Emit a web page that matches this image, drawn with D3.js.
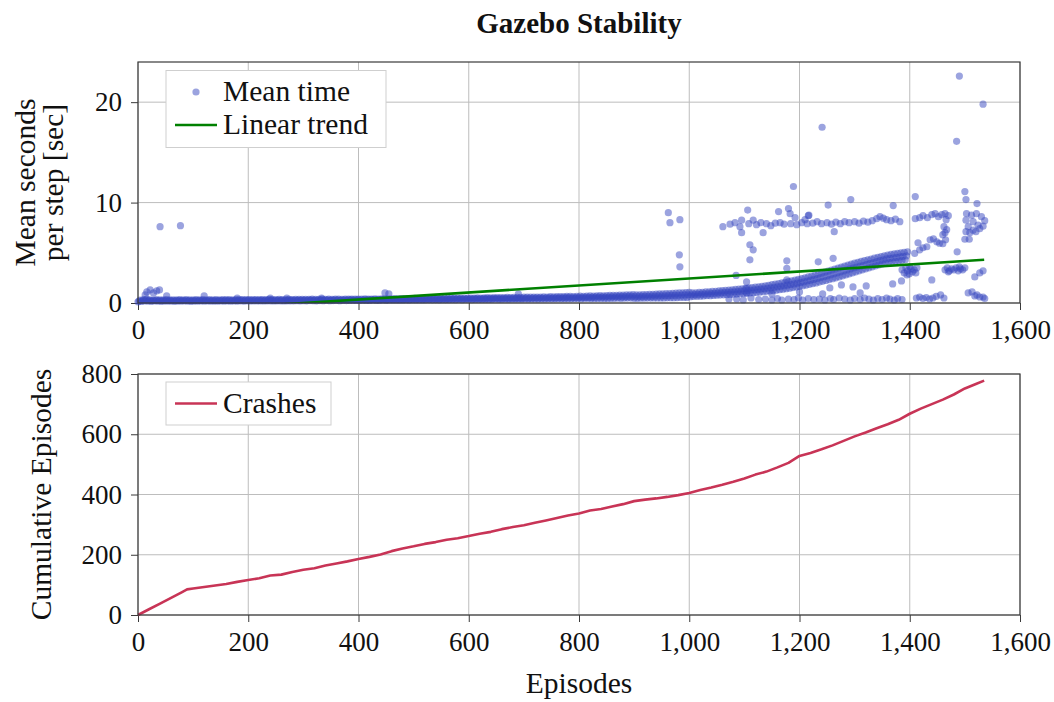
<!DOCTYPE html>
<html>
<head>
<meta charset="utf-8">
<script src="https://cdn.jsdelivr.net/npm/d3@7"></script>
<style>
  body { margin: 0; background: #fff; }
  svg { font-family: "Liberation Serif", "DejaVu Serif", serif; }
</style>
</head>
<body>
<div id="chart"></div>
<script>
// ---- data ----
const xTicks = [0, 200, 400, 600, 800, 1000, 1200, 1400, 1600];
const topTicks = [0, 10, 20];
const bottomTicks = [0, 200, 400, 600, 800];

// dense band of mean step times, three rows of readings every 6 episodes
// (lower row from episode 0, middle row from 2, upper row from 4), up to ~1000
const bandStep = 6;
const bandLowStart = 0, bandMidStart = 2, bandHighStart = 4;
const bandLow = [
  0.12,0.15,0.2,0.18,0.17,0.2,0.18,0.17,0.19,0.18,
  0.18,0.17,0.19,0.18,0.2,0.18,0.17,0.19,0.18,0.2,
  0.18,0.2,0.18,0.19,0.18,0.2,0.19,0.2,0.18,0.2,
  0.19,0.21,0.19,0.21,0.2,0.21,0.2,0.21,0.2,0.22,
  0.21,0.2,0.22,0.21,0.2,0.22,0.21,0.22,0.23,0.22,
  0.23,0.22,0.24,0.23,0.22,0.24,0.23,0.25,0.23,0.24,
  0.25,0.23,0.25,0.24,0.26,0.25,0.26,0.25,0.27,0.26,
  0.26,0.28,0.26,0.27,0.28,0.27,0.28,0.29,0.28,0.29,
  0.29,0.3,0.29,0.31,0.3,0.31,0.3,0.31,0.32,0.31,
  0.32,0.31,0.33,0.32,0.33,0.34,0.33,0.35,0.33,0.35,
  0.35,0.34,0.36,0.35,0.36,0.37,0.36,0.37,0.38,0.37,
  0.37,0.38,0.37,0.38,0.39,0.38,0.39,0.4,0.39,0.4,
  0.4,0.39,0.41,0.4,0.42,0.41,0.42,0.43,0.42,0.43,
  0.43,0.42,0.44,0.44,0.43,0.45,0.45,0.44,0.46,0.46,
  0.45,0.46,0.46,0.47,0.47,0.48,0.47,0.48,0.49,0.49,
  0.47,0.47,0.48,0.48,0.49,0.49,0.5,0.5,0.51,0.51,
  0.52,0.53,0.53,0.54,0.55,0.55,0.56
];
const bandMid = [
  0.2,0.25,0.3,0.25,0.24,0.26,0.25,0.24,0.26,0.25,
  0.25,0.24,0.26,0.25,0.27,0.25,0.24,0.26,0.25,0.27,
  0.25,0.27,0.25,0.26,0.25,0.27,0.26,0.27,0.25,0.27,
  0.26,0.28,0.26,0.28,0.27,0.28,0.27,0.28,0.27,0.29,
  0.28,0.27,0.29,0.28,0.27,0.29,0.28,0.29,0.3,0.29,
  0.3,0.29,0.31,0.3,0.29,0.31,0.3,0.32,0.3,0.31,
  0.32,0.3,0.32,0.31,0.33,0.32,0.33,0.32,0.34,0.33,
  0.33,0.35,0.33,0.34,0.35,0.34,0.35,0.36,0.35,0.36,
  0.36,0.37,0.36,0.38,0.37,0.38,0.37,0.38,0.39,0.38,
  0.39,0.38,0.4,0.39,0.4,0.41,0.4,0.42,0.4,0.42,
  0.42,0.41,0.43,0.42,0.43,0.44,0.43,0.44,0.45,0.44,
  0.45,0.46,0.45,0.46,0.47,0.46,0.47,0.48,0.47,0.48,
  0.49,0.48,0.5,0.49,0.51,0.5,0.51,0.52,0.51,0.53,
  0.53,0.52,0.54,0.55,0.54,0.56,0.57,0.56,0.58,0.59,
  0.58,0.6,0.6,0.61,0.62,0.63,0.63,0.64,0.65,0.66,
  0.63,0.64,0.65,0.66,0.67,0.68,0.69,0.7,0.71,0.72,
  0.73,0.75,0.76,0.77,0.79,0.8,0.82
];
const bandHigh = [
  0.28,0.35,0.4,0.32,0.31,0.33,0.32,0.31,0.33,0.32,
  0.32,0.31,0.33,0.32,0.34,0.32,0.31,0.33,0.32,0.34,
  0.32,0.34,0.32,0.33,0.32,0.34,0.33,0.34,0.32,0.34,
  0.33,0.35,0.33,0.35,0.34,0.35,0.34,0.35,0.34,0.36,
  0.35,0.34,0.36,0.35,0.34,0.36,0.35,0.36,0.37,0.36,
  0.37,0.36,0.38,0.37,0.36,0.38,0.37,0.39,0.37,0.38,
  0.39,0.37,0.39,0.38,0.4,0.39,0.4,0.39,0.41,0.4,
  0.4,0.42,0.4,0.41,0.42,0.41,0.42,0.43,0.42,0.43,
  0.44,0.45,0.44,0.46,0.45,0.46,0.45,0.46,0.47,0.46,
  0.47,0.46,0.48,0.47,0.48,0.49,0.48,0.5,0.48,0.5,
  0.5,0.49,0.51,0.5,0.51,0.53,0.52,0.53,0.54,0.53,
  0.55,0.56,0.55,0.56,0.57,0.56,0.58,0.59,0.58,0.59,
  0.6,0.59,0.61,0.6,0.63,0.62,0.63,0.64,0.63,0.65,
  0.65,0.64,0.67,0.68,0.67,0.69,0.7,0.69,0.72,0.73,
  0.72,0.74,0.75,0.76,0.77,0.79,0.79,0.8,0.82,0.83,
  0.8,0.81,0.83,0.84,0.85,0.87,0.88,0.9,0.91,0.93,
  0.94,0.96,0.98,1.0,1.02,1.04,1.06
];

// rising part of the band, three rows every 6 episodes from 1002 / 1004 / 1006
const riseLowStart = 1002, riseMidStart = 1004, riseHighStart = 1006;
const riseLow = [
  0.63,0.65,0.66,0.68,0.7,0.72,0.73,0.75,0.77,0.79,
  0.81,0.83,0.85,0.87,0.89,0.92,0.94,0.97,1.0,1.02,
  1.05,1.09,1.12,1.16,1.2,1.24,1.28,1.33,1.38,1.43,
  1.48,1.54,1.6,1.66,1.72,1.79,1.86,1.93,2.0,2.08,
  2.16,2.24,2.33,2.42,2.51,2.6,2.7,2.8,2.9,3.0,
  3.1,3.2,3.3,3.4,3.5,3.6,3.7,3.8,3.9,4.0,
  4.05,4.1,4.15,4.2,4.25,4.3
];
const riseMid = [
  0.82,0.84,0.86,0.88,0.9,0.92,0.94,0.96,0.99,1.01,
  1.04,1.06,1.09,1.11,1.14,1.17,1.2,1.24,1.27,1.3,
  1.34,1.38,1.42,1.47,1.51,1.56,1.61,1.67,1.72,1.78,
  1.84,1.9,1.97,2.04,2.11,2.19,2.27,2.35,2.44,2.53,
  2.62,2.71,2.8,2.9,3.0,3.09,3.19,3.29,3.39,3.49,
  3.58,3.67,3.76,3.85,3.94,4.03,4.12,4.21,4.3,4.39,
  4.45,4.5,4.55,4.6,4.65,4.7
];
const riseHigh = [
  1.0,1.02,1.05,1.07,1.1,1.12,1.15,1.17,1.2,1.23,
  1.26,1.29,1.32,1.35,1.38,1.42,1.46,1.5,1.54,1.58,
  1.62,1.67,1.72,1.77,1.82,1.88,1.94,2.0,2.06,2.13,
  2.2,2.27,2.35,2.43,2.51,2.6,2.69,2.78,2.88,2.98,
  3.08,3.18,3.28,3.38,3.48,3.58,3.68,3.78,3.88,3.98,
  4.06,4.14,4.22,4.3,4.38,4.46,4.54,4.62,4.7,4.78,
  4.84,4.9,4.95,5.0,5.05,5.1
];

// strand around 8 s
const upperStrand = [
  [1061,7.6],[1074,7.85],[1083,8.0],[1092,7.6],[1095,7.0],[1108,7.9],[1122,7.8],[1130,8.0],
  [1134,7.0],[1140,7.9],[1148,7.7],[1156,7.95],[1165,8.0],[1172,7.85],[1184,7.9],[1195,7.8],
  [1204,8.0],[1214,7.9],[1224,7.95],[1232,8.1],[1240,7.9],[1250,8.0],[1258,7.85],[1263,7.1],
  [1266,8.05],[1274,7.9],[1282,8.1],[1290,8.0],[1300,8.1],[1308,7.95],[1316,8.15],[1324,8.05],
  [1332,8.2],[1340,8.4],[1346,8.6],[1352,8.45],[1358,8.3],[1366,8.2],[1374,8.35],[1382,8.1],
  [1410,8.4],[1418,8.5],[1424,8.7],[1432,8.5],[1440,8.8],[1446,8.9],[1452,8.6],[1458,8.8],
  [1464,8.9],[1470,8.7]
];

// strand near the floor after episode 1070
const lowerStrand = [
  [1072,0.4],[1086,0.4],[1098,0.3],[1104,1.0],[1112,0.5],[1126,0.35],[1138,0.4],[1150,0.3],
  [1150,0.9],[1160,0.45],[1168,0.3],[1180,0.4],[1190,0.35],[1198,0.5],[1200,1.1],[1206,0.3],
  [1216,0.45],[1226,0.35],[1236,0.4],[1242,0.9],[1246,0.3],[1256,0.45],[1262,0.35],[1272,0.5],
  [1282,0.4],[1292,0.3],[1300,0.45],[1310,0.35],[1310,1.0],[1318,0.5],[1326,0.4],[1334,0.3],
  [1342,0.45],[1350,0.35],[1358,0.5],[1364,0.4],[1372,0.3],[1378,0.45],[1386,0.35],[1412,0.5],
  [1418,0.6],[1424,0.45],[1430,0.55],[1436,0.4],[1442,0.5],[1448,0.65],[1456,0.8],[1462,0.5],
  [1506,1.0],[1513,1.1],[1518,0.7],[1522,0.8],[1527,0.6],[1533,0.6],[1536,0.45]
];

// late clusters
const lateClusters = [
  [1386,3.3],[1390,3.0],[1393,3.5],[1395,2.8],[1396,3.2],[1399,2.9],[1400,3.6],[1402,3.4],
  [1405,3.1],[1408,3.3],[1411,3.0],[1413,3.5],
  [1464,3.3],[1468,3.5],[1470,3.1],[1472,3.2],[1476,3.4],[1480,3.3],[1484,3.5],[1488,3.2],
  [1490,3.6],[1492,3.4],[1496,3.3],[1500,3.5],
  [1409,4.95],[1415,6.0],[1418,5.3],[1424,5.5],[1431,5.6],[1437,6.3],[1443,6.4],[1449,6.1],
  [1454,5.95],[1460,6.8],[1464,7.0],[1467,7.3],[1462,7.6],[1466,8.3],[1460,5.9],[1465,6.3],
  [1503,8.9],[1512,8.75],[1521,8.9],[1530,8.6],[1536,8.2],[1502,8.25],[1515,8.1],[1524,7.75],
  [1506,7.6],[1515,7.25],[1527,7.4],[1533,7.65],[1502,7.1],[1509,7.0],[1520,7.1],[1500,6.35],
  [1508,6.35]
];

// isolated points
const outliers = [
  [13,0.8],[16,1.1],[22,1.3],[28,1.0],[34,1.2],[39,1.3],[52,0.7],[40,7.6],[77,7.7],
  [120,0.7],[180,0.5],[240,0.5],[270,0.5],[333,0.5],[448,1.0],[455,0.9],[690,0.9],
  [962,9.0],[965,8.0],[983,8.3],[982,4.8],[983,3.6],
  [1085,2.75],[1104,2.1],[1104,1.45],[1106,9.25],[1110,5.8],[1116,5.3],[1110,4.3],
  [1095,8.25],[1116,8.25],[1162,9.1],[1180,9.4],[1183,8.9],[1192,8.5],[1189,11.6],
  [1216,8.7],[1210,8.3],[1217,8.75],[1177,4.2],[1177,3.45],[1177,2.3],[1234,4.1],
  [1261,4.45],[1252,9.75],[1241,17.5],[1293,10.3],[1370,9.7],[1410,10.6],
  [1255,1.5],[1276,1.8],[1297,1.6],[1321,1.7],[1369,1.9],[1385,2.2],[1440,2.3],
  [1486,5.1],[1490,22.6],[1533,19.8],[1485,16.1],[1500,11.1],[1502,10.3],[1522,9.9],
  [1518,2.6],[1527,3.0],[1533,3.2]
];

// linear trend end points
const trendEpisodes = [0, 1535];
const trendValues = [-1.05, 4.3];

// cumulative crashes
const crashEpisodes = [0,20,40,60,80,89,100,120,140,160,180,200,220,240,260,280,300,320,340,360,
  380,400,420,440,460,480,500,520,540,560,580,600,620,640,660,680,700,720,740,760,780,800,820,
  840,860,880,900,920,940,960,980,1000,1020,1040,1060,1080,1100,1120,1140,1160,1180,1200,1220,
  1240,1260,1280,1300,1320,1340,1360,1380,1400,1420,1440,1460,1480,1500,1520,1535];
const crashCounts = [0,19,38,57,76,85,88,93,98,103,110,116,122,131,134,143,150,155,164,171,
  178,186,193,201,212,221,228,236,242,250,255,262,270,276,285,292,298,306,314,322,330,337,347,
  352,360,368,378,383,387,392,398,405,415,423,432,442,453,466,476,490,505,528,538,550,563,578,
  593,606,620,633,648,668,685,700,715,732,752,767,778];

// ---- layout ----
const width = 1054, height = 702;
const plotLeft = 138, plotRight = 1020;
const topPanel = {top: 62, bottom: 303};
const botPanel = {top: 374, bottom: 615};

const blue = 'rgb(55,72,192)';
const green = 'rgb(0,128,0)';
const crimson = 'rgb(200,52,86)';
const gridColor = '#bdbdbd';
const frameColor = '#3a3a3a';
const labelSize = '29.5px';

const svg = d3.select('#chart').append('svg')
  .attr('width', width)
  .attr('height', height);

const x = d3.scaleLinear().domain([0, 1600]).range([plotLeft, plotRight]);
const yTop = d3.scaleLinear().domain([0, 24]).range([topPanel.bottom, topPanel.top]);
const yBot = d3.scaleLinear().domain([0, 800]).range([botPanel.bottom, botPanel.top]);

function drawFrame(panel, y, yTickVals) {
  const g = svg.append('g');
  // grid
  g.selectAll('.vgrid')
    .data(xTicks)
    .join('line')
      .attr('x1', d => x(d)).attr('x2', d => x(d))
      .attr('y1', panel.top).attr('y2', panel.bottom)
      .attr('stroke', gridColor).attr('stroke-width', 1);
  g.selectAll('.hgrid')
    .data(yTickVals)
    .join('line')
      .attr('x1', plotLeft).attr('x2', plotRight)
      .attr('y1', d => y(d)).attr('y2', d => y(d))
      .attr('stroke', gridColor).attr('stroke-width', 1);

  const xAxis = d3.axisBottom(x).tickValues(xTicks).tickFormat(d3.format(',')).tickSize(7).tickPadding(10);
  const yAxis = d3.axisLeft(y).tickValues(yTickVals).tickSize(7).tickPadding(9);

  svg.append('g')
    .attr('transform', `translate(0, ${panel.bottom})`)
    .call(xAxis)
    .call(g => g.select('.domain').remove())
    .call(g => g.selectAll('line').attr('stroke', frameColor))
    .selectAll('text')
      .attr('font-size', '27px')
      .attr('fill', '#111')
      .attr('font-family', '"Liberation Serif", serif');

  svg.append('g')
    .attr('transform', `translate(${plotLeft}, 0)`)
    .call(yAxis)
    .call(g => g.select('.domain').remove())
    .call(g => g.selectAll('line').attr('stroke', frameColor))
    .selectAll('text')
      .attr('font-size', '27px')
      .attr('fill', '#111')
      .attr('font-family', '"Liberation Serif", serif');
}

function drawBorder(panel) {
  svg.append('rect')
    .attr('x', plotLeft).attr('y', panel.top)
    .attr('width', plotRight - plotLeft)
    .attr('height', panel.bottom - panel.top)
    .attr('fill', 'none')
    .attr('stroke', frameColor)
    .attr('stroke-width', 1.2);
}

// ---- top panel ----
drawFrame(topPanel, yTop, topTicks);

// gather scatter points
const scatter = [];
bandLow.forEach((v, i) => scatter.push([bandLowStart + i * bandStep, v]));
bandMid.forEach((v, i) => scatter.push([bandMidStart + i * bandStep, v]));
bandHigh.forEach((v, i) => scatter.push([bandHighStart + i * bandStep, v]));
riseLow.forEach((v, i) => scatter.push([riseLowStart + i * bandStep, v]));
riseMid.forEach((v, i) => scatter.push([riseMidStart + i * bandStep, v]));
riseHigh.forEach((v, i) => scatter.push([riseHighStart + i * bandStep, v]));
upperStrand.forEach(d => scatter.push(d));
lowerStrand.forEach(d => scatter.push(d));
lateClusters.forEach(d => scatter.push(d));
outliers.forEach(d => scatter.push(d));

svg.append('g')
  .selectAll('circle')
  .data(scatter)
  .join('circle')
    .attr('cx', d => x(d[0]))
    .attr('cy', d => yTop(d[1]))
    .attr('r', 3.6)
    .attr('fill', blue)
    .attr('fill-opacity', 0.5);

svg.append('clipPath').attr('id', 'clipTop')
  .append('rect')
    .attr('x', plotLeft).attr('y', topPanel.top)
    .attr('width', plotRight - plotLeft)
    .attr('height', topPanel.bottom - topPanel.top);

const trend = trendEpisodes.map((e, i) => [e, trendValues[i]]);
svg.append('path')
  .datum(trend)
  .attr('clip-path', 'url(#clipTop)')
  .attr('fill', 'none')
  .attr('stroke', green)
  .attr('stroke-width', 2.6)
  .attr('d', d3.line().x(d => x(d[0])).y(d => yTop(d[1])));

drawBorder(topPanel);

// legend (top)
const lg1 = svg.append('g');
lg1.append('rect')
  .attr('x', 166).attr('y', 70.5).attr('width', 220).attr('height', 77)
  .attr('fill', '#fff').attr('stroke', '#cfcfcf').attr('stroke-width', 1);
lg1.append('circle')
  .attr('cx', 196).attr('cy', 92).attr('r', 3.6)
  .attr('fill', blue).attr('fill-opacity', 0.5);
lg1.append('line')
  .attr('x1', 175).attr('x2', 217).attr('y1', 125).attr('y2', 125)
  .attr('stroke', green).attr('stroke-width', 2.6);
lg1.append('text')
  .attr('x', 223).attr('y', 101)
  .attr('font-size', labelSize).attr('fill', '#111')
  .text('Mean time');
lg1.append('text')
  .attr('x', 223).attr('y', 134)
  .attr('font-size', labelSize).attr('fill', '#111')
  .text('Linear trend');

// ---- bottom panel ----
drawFrame(botPanel, yBot, bottomTicks);

const crashes = crashEpisodes.map((e, i) => [e, crashCounts[i]]);
svg.append('path')
  .datum(crashes)
  .attr('fill', 'none')
  .attr('stroke', crimson)
  .attr('stroke-width', 2.6)
  .attr('stroke-linejoin', 'round')
  .attr('d', d3.line().x(d => x(d[0])).y(d => yBot(d[1])));

drawBorder(botPanel);

const lg2 = svg.append('g');
lg2.append('rect')
  .attr('x', 166).attr('y', 382).attr('width', 165).attr('height', 43)
  .attr('fill', '#fff').attr('stroke', '#cfcfcf').attr('stroke-width', 1);
lg2.append('line')
  .attr('x1', 175).attr('x2', 217).attr('y1', 403.5).attr('y2', 403.5)
  .attr('stroke', crimson).attr('stroke-width', 2.6);
lg2.append('text')
  .attr('x', 223).attr('y', 413)
  .attr('font-size', labelSize).attr('fill', '#111')
  .text('Crashes');

// ---- titles ----
svg.append('text')
  .attr('x', (plotLeft + plotRight) / 2).attr('y', 33)
  .attr('text-anchor', 'middle')
  .attr('font-size', '29px').attr('font-weight', 'bold').attr('fill', '#111')
  .text('Gazebo Stability');

svg.append('text')
  .attr('transform', `translate(35, ${(topPanel.top + topPanel.bottom) / 2}) rotate(-90)`)
  .attr('text-anchor', 'middle')
  .attr('font-size', labelSize).attr('fill', '#111')
  .text('Mean seconds');
svg.append('text')
  .attr('transform', `translate(63, ${(topPanel.top + topPanel.bottom) / 2}) rotate(-90)`)
  .attr('text-anchor', 'middle')
  .attr('font-size', labelSize).attr('fill', '#111')
  .text('per step [sec]');

svg.append('text')
  .attr('transform', `translate(51, ${(botPanel.top + botPanel.bottom) / 2}) rotate(-90)`)
  .attr('text-anchor', 'middle')
  .attr('font-size', labelSize).attr('fill', '#111')
  .text('Cumulative Episodes');

svg.append('text')
  .attr('x', (plotLeft + plotRight) / 2).attr('y', 693)
  .attr('text-anchor', 'middle')
  .attr('font-size', labelSize).attr('fill', '#111')
  .text('Episodes');
</script>
</body>
</html>
